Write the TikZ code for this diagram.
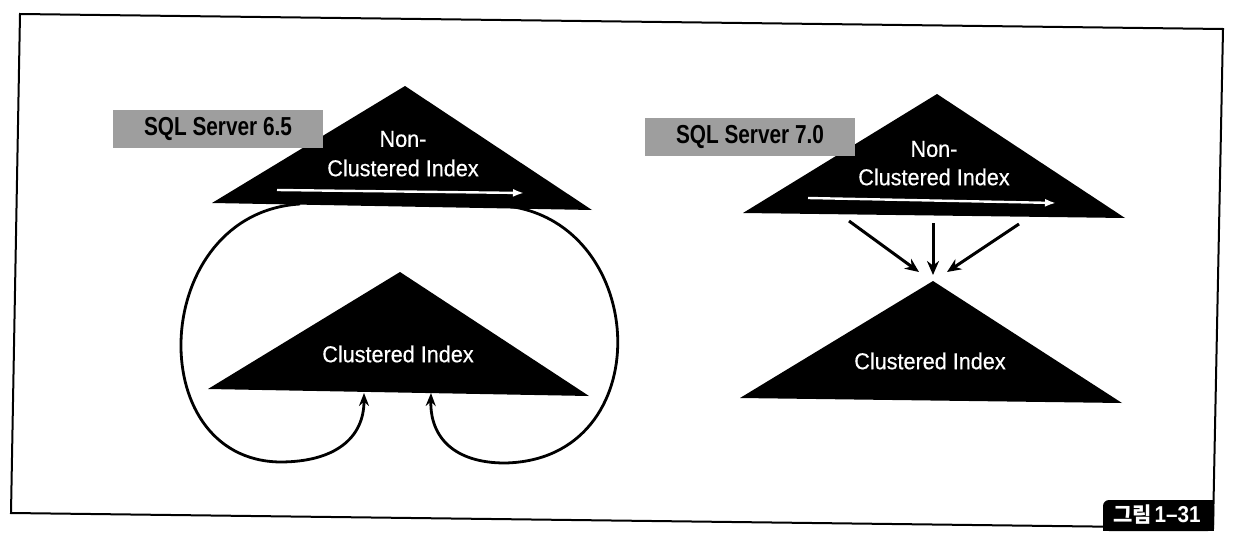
\documentclass[tikz,border=0pt]{standalone}
\usepackage{fontspec}
\setmainfont{Liberation Sans}
\newfontfamily\condfont[FakeStretch=0.94,FakeBold=0.5]{Liberation Sans}
\newfontfamily\labfont[FakeStretch=0.8]{Liberation Sans}
\newfontfamily\krfont{Noto Sans CJK KR}
\newfontfamily\numfont[FakeStretch=0.9]{Liberation Sans}
\usetikzlibrary{arrows.meta}
\definecolor{labgray}{gray}{0.62}
\tikzset{
  frameline/.style={line width=2pt, line join=miter},
  tri/.style={fill=black},
  tritext/.style={text=white, font=\condfont\fontsize{23}{26}\selectfont, inner sep=0pt},
  verlabel/.style={fill=labgray, minimum width=210pt, minimum height=38pt, inner sep=0pt,
                   font=\labfont\bfseries\fontsize{26}{28}\selectfont},
  whitearrow/.style={draw=white, line width=2.4pt, -{Latex[length=11pt,width=8pt]}},
  loop/.style={draw=black, line width=2.8pt, -{Stealth[length=13pt,width=10pt]}},
  ptr/.style={draw=black, line width=3pt, -{Stealth[length=14pt,width=12pt]}},
}
\begin{document}
\begin{tikzpicture}[x=1pt,y=-1pt]
\useasboundingbox (0,0) rectangle (1234,546);
% frame
\draw[frameline] (20,14) -- (1223,29) -- (1213,528) -- (11,513) -- cycle;

% ---------- left: SQL Server 6.5 ----------
\coordinate (ltl) at (212,203);
\coordinate (lta) at (405,86);
\coordinate (ltr) at (592,210);
\coordinate (lbl) at (208,389);
\coordinate (lba) at (400,272);
\coordinate (lbr) at (589,396);
% loops (drawn first, top hidden by triangle)
\coordinate (loopLs) at (300,204);
\coordinate (loopLb) at (280,462);
\coordinate (tipL) at (364,393);
\coordinate (loopRs) at (507,206);
\coordinate (loopRb) at (505,463);
\coordinate (tipR) at (431,393);
\draw[loop] (loopLs) .. controls (150,213) and (140,460) .. (loopLb)
            .. controls (335,462) and (364,438) .. (tipL);
\draw[loop] (loopRs) .. controls (650,223) and (660,460) .. (loopRb)
            .. controls (455,463) and (430,438) .. (tipR);
\fill[tri] (ltl) -- (lta) -- (ltr) -- cycle;
\fill[tri] (lbl) -- (lba) -- (lbr) -- cycle;
\node[verlabel] (v65) at (218,129) {SQL Server 6.5};
\node[tritext] (ln1) at (403,139) {Non-};
\node[tritext] (ln2) at (403,168) {Clustered Index};
\node[tritext] (lc) at (398,354) {Clustered Index};
\coordinate (lws) at (277,190);
\coordinate (lwe) at (524,193);
\draw[whitearrow] (lws) -- (lwe);

% ---------- right: SQL Server 7.0 ----------
\coordinate (rtl) at (743,213);
\coordinate (rta) at (937,94);
\coordinate (rtr) at (1125,218);
\coordinate (rbl) at (740,398);
\coordinate (rba) at (933,281);
\coordinate (rbr) at (1122,403);
\fill[tri] (rtl) -- (rta) -- (rtr) -- cycle;
\fill[tri] (rbl) -- (rba) -- (rbr) -- cycle;
\node[verlabel] (v70) at (750,137) {SQL Server 7.0};
\node[tritext] (rn1) at (934,149) {Non-};
\node[tritext] (rn2) at (934,177) {Clustered Index};
\node[tritext] (rc) at (930,361) {Clustered Index};
\coordinate (rws) at (808,198);
\coordinate (rwe) at (1056,203);
\draw[whitearrow] (rws) -- (rwe);
\coordinate (p1s) at (849,221);
\coordinate (p1e) at (919,272);
\coordinate (p2s) at (933,223);
\coordinate (p2e) at (933,275);
\coordinate (p3s) at (1019,224);
\coordinate (p3e) at (947,272);
\draw[ptr] (p1s) -- (p1e);
\draw[ptr] (p2s) -- (p2e);
\draw[ptr] (p3s) -- (p3e);

% ---------- figure label ----------
\fill[rounded corners=6pt] (1103,500) rectangle (1214,531);
\fill (1112,500) rectangle (1214,531);
\fill (1103,512) rectangle (1214,531);
\node[text=white, inner sep=0pt] (fig) at (1157,515)
  {{\krfont\bfseries\fontsize{21}{23}\selectfont 그림} {\numfont\bfseries\fontsize{23}{25}\selectfont 1–31}};
\end{tikzpicture}
\end{document}
